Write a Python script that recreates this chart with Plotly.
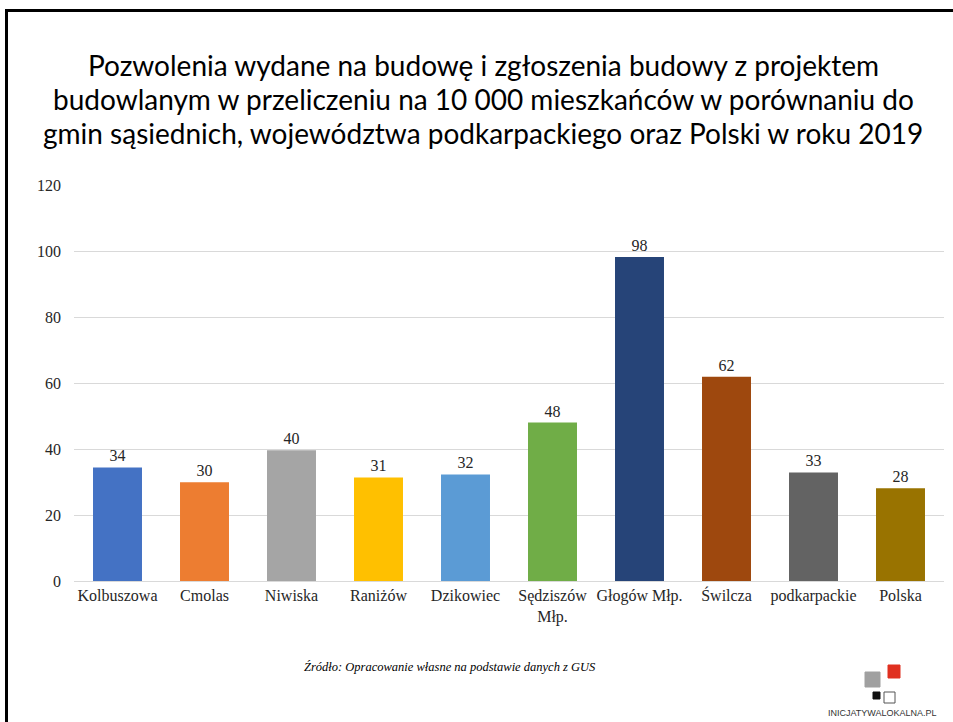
import plotly.graph_objects as go

# dane
categories = ["Kolbuszowa", "Cmolas", "Niwiska", "Raniżów", "Dzikowiec",
              "Sędziszów<br>Młp.", "Głogów Młp.", "Świlcza", "podkarpackie", "Polska"]
values = [34.4, 29.9, 39.6, 31.4, 32.3, 48.0, 98.2, 61.9, 32.9, 28.1]
colors = ["#4472C4", "#ED7D31", "#A5A5A5", "#FFC000", "#5B9BD5",
          "#70AD47", "#264478", "#9E480E", "#636363", "#997300"]
y_ticks = [0, 20, 40, 60, 80, 100, 120]

title_lines = ["Pozwolenia wydane na budowę i zgłoszenia budowy z projektem",
               "budowlanym w przeliczeniu na 10 000 mieszkańców w porównaniu do",
               "gmin sąsiednich, województwa podkarpackiego oraz Polski w roku 2019"]
source = "Źródło: Opracowanie własne na podstawie danych z GUS"

W, H = 953, 722
L, R, T, B = 74, 9, 185, 141


def px(x):
    return (x - L) / (W - L - R)


def py(y):
    return (H - B - y) / (H - T - B)


fig = go.Figure(go.Bar(
    x=categories, y=values,
    marker=dict(color=colors, line=dict(width=0)),
    text=values, texttemplate="%{y:.0f}", textposition="outside",
    textfont=dict(family="Liberation Serif", size=16, color="#262626"),
    cliponaxis=False,
))

fig.update_layout(
    width=W, height=H,
    margin=dict(l=L, r=R, t=T, b=B),
    paper_bgcolor="white", plot_bgcolor="white",
    bargap=0.437,
    showlegend=False,
    font=dict(family="Liberation Serif", size=16, color="#262626"),
)
fig.update_xaxes(showline=True, linecolor="#D9D9D9", linewidth=1,
                 ticks="", tickfont=dict(size=16), showgrid=False)
fig.update_yaxes(range=[0, 120], tickvals=y_ticks, showgrid=True,
                 gridcolor="#D9D9D9", gridwidth=1, zeroline=False,
                 ticks="", tickfont=dict(size=16), ticklabelstandoff=12)

for line, yy in zip(title_lines, [65, 99, 133]):
    fig.add_annotation(text=line, xref="paper", yref="paper",
                       x=px(483), y=py(yy), xanchor="center", yanchor="middle",
                       showarrow=False,
                       font=dict(family="Lato", size=28, color="black"))
fig.add_annotation(text="<i>" + source + "</i>", xref="paper", yref="paper",
                   x=px(450), y=py(667), xanchor="center", yanchor="middle",
                   showarrow=False,
                   font=dict(family="Liberation Serif", size=12.5, color="black"))
fig.add_annotation(text="INICJATYWALOKALNA.PL", xref="paper", yref="paper",
                   x=px(882), y=py(713), xanchor="center", yanchor="middle",
                   showarrow=False,
                   font=dict(family="Liberation Sans", size=9, color="#333333"))

# ramka slajdu
fig.add_shape(type="line", xref="paper", yref="paper",
              x0=px(5), x1=px(953), y0=py(10.5), y1=py(10.5),
              line=dict(color="black", width=3))
fig.add_shape(type="line", xref="paper", yref="paper",
              x0=px(6.5), x1=px(6.5), y0=py(9), y1=py(722),
              line=dict(color="black", width=3))

# logo
logo = [(865, 672, 880, 687, "#A0A0A0", "#A0A0A0"),
        (888, 665, 900, 678, "#E03020", "#E03020"),
        (873, 692, 880, 699, "#111111", "#111111"),
        (884, 692, 895, 703, "white", "#555555")]
for x0, y0, x1, y1, fill, edge in logo:
    fig.add_shape(type="rect", xref="paper", yref="paper",
                  x0=px(x0), x1=px(x1), y0=py(y0), y1=py(y1),
                  fillcolor=fill, line=dict(color=edge, width=1))

fig.write_html("out.html", config={"displayModeBar": False},
               post_script="document.body.style.margin='0';")
